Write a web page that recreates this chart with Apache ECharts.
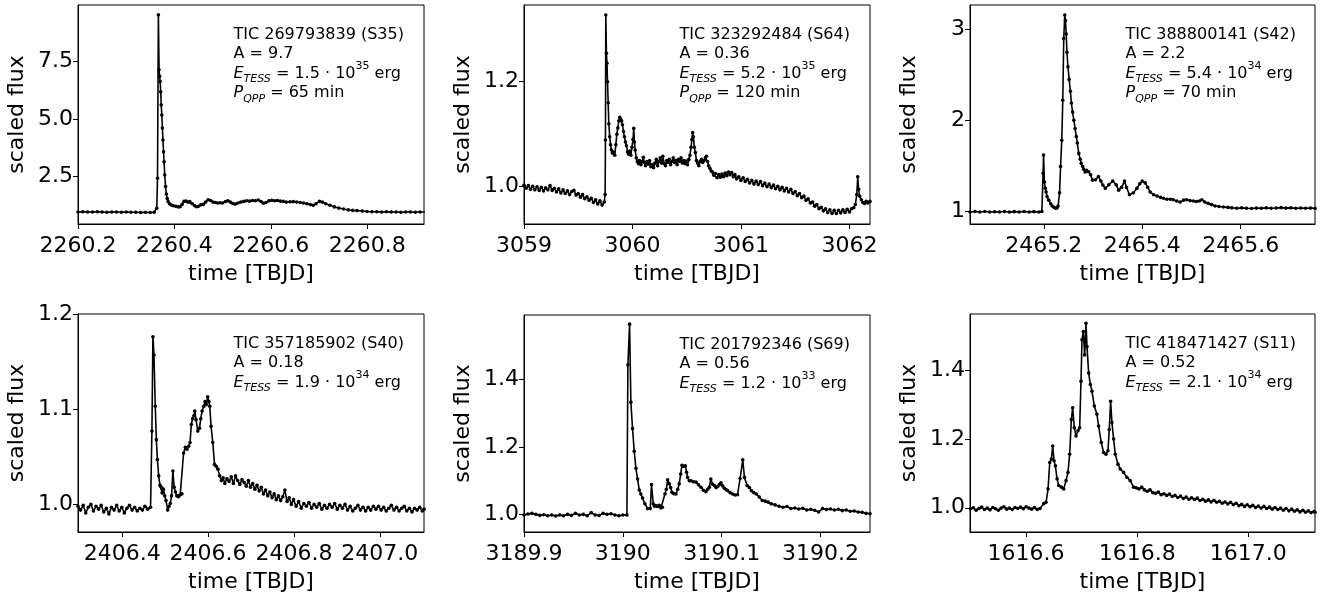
<!DOCTYPE html>
<html><head><meta charset="utf-8">
<script src="https://cdn.jsdelivr.net/npm/echarts@6/dist/echarts.min.js"></script>
<style>html,body{margin:0;padding:0;background:#fff}#c{width:1323px;height:594px}</style>
</head><body><div id="c"></div>
<script>
// ---------- light curves [time, scaled flux] ----------
const lc1 = [[2260.200,0.97],[2260.210,0.98],[2260.220,0.97],[2260.230,0.97],[2260.240,0.98],[2260.250,0.97],[2260.260,0.96],[2260.270,0.97],[2260.280,0.97],[2260.290,0.96],[2260.300,0.97],[2260.310,0.96],[2260.320,0.96],[2260.330,0.95],[2260.340,0.96],[2260.350,0.95],[2260.358,0.96],[2260.3635,1.13],[2260.3650,2.43],[2260.3668,9.51],[2260.3682,7.13],[2260.3694,6.85],[2260.3705,6.62],[2260.3716,6.18],[2260.3727,5.61],[2260.3739,5.17],[2260.3751,4.61],[2260.3763,4.09],[2260.3775,3.58],[2260.3786,3.15],[2260.3800,2.57],[2260.3817,2.07],[2260.3834,1.75],[2260.3852,1.55],[2260.3870,1.42],[2260.3900,1.32],[2260.394,1.27],[2260.398,1.24],[2260.403,1.22],[2260.408,1.19],[2260.412,1.20],[2260.416,1.30],[2260.420,1.43],[2260.424,1.44],[2260.428,1.40],[2260.432,1.42],[2260.437,1.33],[2260.442,1.24],[2260.446,1.20],[2260.450,1.22],[2260.455,1.28],[2260.460,1.30],[2260.465,1.40],[2260.470,1.50],[2260.475,1.47],[2260.480,1.40],[2260.485,1.38],[2260.490,1.36],[2260.495,1.37],[2260.500,1.36],[2260.506,1.42],[2260.511,1.46],[2260.516,1.40],[2260.521,1.34],[2260.526,1.31],[2260.532,1.36],[2260.538,1.40],[2260.544,1.43],[2260.550,1.46],[2260.556,1.44],[2260.562,1.47],[2260.568,1.46],[2260.574,1.49],[2260.580,1.42],[2260.585,1.35],[2260.590,1.38],[2260.596,1.45],[2260.602,1.48],[2260.608,1.46],[2260.614,1.47],[2260.620,1.44],[2260.626,1.43],[2260.632,1.40],[2260.640,1.41],[2260.647,1.42],[2260.654,1.40],[2260.661,1.38],[2260.668,1.36],[2260.675,1.33],[2260.682,1.29],[2260.688,1.26],[2260.694,1.33],[2260.701,1.43],[2260.707,1.40],[2260.714,1.33],[2260.723,1.26],[2260.732,1.19],[2260.741,1.14],[2260.751,1.10],[2260.761,1.06],[2260.770,1.04],[2260.779,1.03],[2260.790,1.01],[2260.800,0.99],[2260.810,0.98],[2260.820,0.98],[2260.830,0.97],[2260.840,0.98],[2260.850,0.97],[2260.860,0.97],[2260.870,0.96],[2260.880,0.97],[2260.890,0.97],[2260.900,0.96],[2260.910,0.97],[2260.920,0.97]];

const lc2 = [[3059.00,1.003],[3059.02,0.997],[3059.04,1.002],[3059.06,0.995],[3059.08,1.001],[3059.10,0.994],[3059.12,1.000],[3059.14,0.993],[3059.16,0.999],[3059.18,0.992],[3059.20,0.998],[3059.22,0.994],[3059.24,1.002],[3059.26,0.993],[3059.28,0.997],[3059.30,0.990],[3059.32,0.996],[3059.34,0.988],[3059.36,0.994],[3059.38,0.987],[3059.40,0.992],[3059.42,0.985],[3059.44,0.991],[3059.46,0.993],[3059.48,0.984],[3059.50,0.987],[3059.52,0.980],[3059.54,0.985],[3059.56,0.977],[3059.58,0.981],[3059.60,0.974],[3059.62,0.978],[3059.64,0.970],[3059.66,0.975],[3059.68,0.967],[3059.70,0.973],[3059.72,0.965],[3059.74,0.971],[3059.748,0.985],[3059.751,1.089],[3059.754,1.327],[3059.760,1.254],[3059.765,1.235],[3059.770,1.200],[3059.776,1.160],[3059.782,1.120],[3059.790,1.095],[3059.798,1.080],[3059.806,1.070],[3059.815,1.064],[3059.825,1.066],[3059.837,1.060],[3059.847,1.080],[3059.856,1.100],[3059.865,1.112],[3059.874,1.125],[3059.883,1.132],[3059.892,1.128],[3059.900,1.125],[3059.908,1.118],[3059.917,1.105],[3059.926,1.095],[3059.935,1.085],[3059.945,1.078],[3059.955,1.066],[3059.965,1.062],[3059.975,1.068],[3059.985,1.060],[3059.995,1.075],[3060.005,1.090],[3060.012,1.111],[3060.018,1.085],[3060.025,1.070],[3060.035,1.055],[3060.045,1.048],[3060.055,1.044],[3060.065,1.050],[3060.078,1.042],[3060.090,1.048],[3060.100,1.056],[3060.110,1.046],[3060.120,1.040],[3060.132,1.048],[3060.145,1.043],[3060.158,1.050],[3060.170,1.038],[3060.182,1.042],[3060.195,1.036],[3060.208,1.045],[3060.220,1.052],[3060.232,1.040],[3060.244,1.048],[3060.256,1.055],[3060.268,1.045],[3060.280,1.058],[3060.292,1.044],[3060.304,1.040],[3060.316,1.050],[3060.328,1.046],[3060.340,1.052],[3060.352,1.042],[3060.364,1.048],[3060.376,1.055],[3060.388,1.046],[3060.400,1.050],[3060.412,1.042],[3060.424,1.052],[3060.436,1.048],[3060.448,1.055],[3060.460,1.045],[3060.472,1.050],[3060.484,1.044],[3060.496,1.049],[3060.508,1.042],[3060.520,1.052],[3060.530,1.060],[3060.540,1.075],[3060.548,1.090],[3060.555,1.103],[3060.562,1.095],[3060.570,1.075],[3060.580,1.065],[3060.590,1.050],[3060.600,1.045],[3060.612,1.040],[3060.624,1.048],[3060.636,1.052],[3060.648,1.046],[3060.660,1.050],[3060.672,1.055],[3060.682,1.058],[3060.692,1.048],[3060.702,1.040],[3060.714,1.035],[3060.726,1.030],[3060.738,1.028],[3060.750,1.022],[3060.765,1.025],[3060.780,1.017],[3060.795,1.023],[3060.810,1.018],[3060.825,1.024],[3060.840,1.019],[3060.855,1.026],[3060.870,1.021],[3060.885,1.028],[3060.900,1.023],[3060.915,1.027],[3060.930,1.019],[3060.945,1.023],[3060.960,1.015],[3060.980,1.019],[3061.000,1.012],[3061.020,1.017],[3061.040,1.010],[3061.060,1.014],[3061.080,1.007],[3061.100,1.012],[3061.120,1.005],[3061.140,1.011],[3061.160,1.004],[3061.180,1.010],[3061.200,1.002],[3061.220,1.007],[3061.240,1.000],[3061.260,1.005],[3061.280,0.998],[3061.300,1.003],[3061.320,0.996],[3061.340,1.001],[3061.360,0.994],[3061.380,0.999],[3061.400,0.992],[3061.420,0.997],[3061.440,0.990],[3061.460,0.995],[3061.480,0.987],[3061.500,0.991],[3061.520,0.983],[3061.540,0.987],[3061.560,0.979],[3061.580,0.982],[3061.600,0.974],[3061.620,0.977],[3061.640,0.969],[3061.660,0.971],[3061.680,0.963],[3061.700,0.966],[3061.720,0.958],[3061.740,0.961],[3061.760,0.954],[3061.780,0.958],[3061.800,0.951],[3061.820,0.956],[3061.840,0.949],[3061.860,0.955],[3061.880,0.949],[3061.900,0.955],[3061.920,0.950],[3061.940,0.956],[3061.960,0.951],[3061.980,0.957],[3062.000,0.952],[3062.020,0.958],[3062.040,0.960],[3062.055,0.966],[3062.068,0.985],[3062.077,1.019],[3062.085,0.995],[3062.095,0.982],[3062.110,0.975],[3062.125,0.970],[3062.140,0.968],[3062.155,0.972],[3062.170,0.969],[3062.190,0.972]];

const lc3 = [[2465.050,0.990],[2465.060,0.995],[2465.070,0.990],[2465.080,0.995],[2465.090,0.990],[2465.100,0.992],[2465.110,0.990],[2465.120,0.995],[2465.130,0.990],[2465.140,0.993],[2465.150,0.990],[2465.160,0.995],[2465.170,0.990],[2465.180,0.993],[2465.190,0.990],[2465.196,0.995],[2465.1985,1.415],[2465.1995,1.617],[2465.2012,1.320],[2465.2030,1.250],[2465.2047,1.210],[2465.2065,1.160],[2465.210,1.120],[2465.214,1.080],[2465.217,1.055],[2465.221,1.040],[2465.224,1.030],[2465.227,1.035],[2465.229,1.055],[2465.232,1.200],[2465.234,1.490],[2465.2365,1.780],[2465.2385,2.220],[2465.2405,2.900],[2465.2425,3.160],[2465.2440,3.100],[2465.2455,2.950],[2465.247,2.750],[2465.249,2.590],[2465.2515,2.450],[2465.254,2.320],[2465.256,2.190],[2465.2585,2.090],[2465.261,2.000],[2465.2635,1.910],[2465.266,1.820],[2465.268,1.750],[2465.271,1.635],[2465.274,1.570],[2465.276,1.525],[2465.279,1.490],[2465.281,1.460],[2465.284,1.430],[2465.287,1.450],[2465.291,1.433],[2465.295,1.400],[2465.299,1.340],[2465.305,1.345],[2465.311,1.380],[2465.316,1.330],[2465.320,1.286],[2465.325,1.250],[2465.332,1.290],[2465.340,1.330],[2465.347,1.290],[2465.352,1.230],[2465.358,1.260],[2465.364,1.330],[2465.368,1.260],[2465.374,1.180],[2465.382,1.200],[2465.389,1.250],[2465.395,1.300],[2465.400,1.330],[2465.406,1.310],[2465.411,1.260],[2465.416,1.210],[2465.423,1.180],[2465.430,1.165],[2465.437,1.150],[2465.443,1.140],[2465.450,1.130],[2465.457,1.130],[2465.463,1.125],[2465.470,1.110],[2465.477,1.100],[2465.484,1.120],[2465.490,1.125],[2465.497,1.115],[2465.504,1.110],[2465.510,1.105],[2465.516,1.110],[2465.521,1.125],[2465.527,1.100],[2465.534,1.084],[2465.541,1.070],[2465.548,1.055],[2465.556,1.050],[2465.565,1.045],[2465.574,1.040],[2465.582,1.035],[2465.592,1.030],[2465.602,1.035],[2465.612,1.030],[2465.622,1.028],[2465.632,1.032],[2465.642,1.030],[2465.652,1.035],[2465.662,1.030],[2465.672,1.033],[2465.682,1.037],[2465.692,1.032],[2465.702,1.035],[2465.712,1.030],[2465.722,1.034],[2465.732,1.030],[2465.742,1.032],[2465.751,1.030]];

const lc4 = [[2406.297,0.998],[2406.303,0.994],[2406.309,0.999],[2406.315,0.991],[2406.321,0.997],[2406.327,1.000],[2406.333,0.993],[2406.339,0.998],[2406.345,0.995],[2406.351,0.999],[2406.357,0.992],[2406.363,0.996],[2406.369,0.990],[2406.375,0.997],[2406.381,0.994],[2406.387,0.999],[2406.393,0.993],[2406.399,0.997],[2406.405,0.991],[2406.411,0.996],[2406.417,0.999],[2406.423,0.994],[2406.429,0.997],[2406.435,0.993],[2406.441,0.996],[2406.447,0.994],[2406.453,0.998],[2406.459,0.995],[2406.466,0.997],[2406.4692,1.077],[2406.4715,1.176],[2406.4740,1.157],[2406.4770,1.103],[2406.4795,1.068],[2406.482,1.047],[2406.485,1.030],[2406.488,1.020],[2406.491,1.018],[2406.493,1.012],[2406.496,1.016],[2406.499,1.009],[2406.502,1.004],[2406.506,0.994],[2406.509,0.998],[2406.512,1.001],[2406.515,1.009],[2406.518,1.035],[2406.521,1.018],[2406.524,1.013],[2406.527,1.009],[2406.531,1.008],[2406.535,1.010],[2406.539,1.011],[2406.543,1.054],[2406.547,1.060],[2406.551,1.058],[2406.555,1.061],[2406.558,1.065],[2406.561,1.084],[2406.564,1.090],[2406.567,1.093],[2406.569,1.098],[2406.572,1.089],[2406.576,1.077],[2406.580,1.080],[2406.583,1.090],[2406.586,1.098],[2406.590,1.103],[2406.593,1.108],[2406.596,1.105],[2406.599,1.113],[2406.602,1.108],[2406.604,1.103],[2406.607,1.082],[2406.611,1.065],[2406.615,1.042],[2406.619,1.040],[2406.623,1.037],[2406.627,1.030],[2406.631,1.025],[2406.635,1.028],[2406.639,1.022],[2406.644,1.027],[2406.649,1.024],[2406.654,1.029],[2406.659,1.022],[2406.664,1.030],[2406.669,1.025],[2406.674,1.021],[2406.679,1.026],[2406.684,1.023],[2406.689,1.019],[2406.694,1.025],[2406.699,1.018],[2406.704,1.022],[2406.709,1.016],[2406.714,1.020],[2406.719,1.014],[2406.724,1.018],[2406.729,1.011],[2406.734,1.015],[2406.739,1.009],[2406.744,1.013],[2406.749,1.007],[2406.754,1.011],[2406.759,1.005],[2406.764,1.009],[2406.769,1.004],[2406.774,1.008],[2406.779,1.015],[2406.784,1.003],[2406.789,1.007],[2406.794,1.000],[2406.799,1.005],[2406.805,0.998],[2406.811,1.003],[2406.817,0.996],[2406.823,1.001],[2406.829,0.998],[2406.835,1.002],[2406.841,0.996],[2406.847,1.000],[2406.853,0.997],[2406.859,1.001],[2406.865,0.995],[2406.871,0.999],[2406.877,0.996],[2406.883,1.000],[2406.889,0.997],[2406.895,1.001],[2406.901,0.995],[2406.907,0.999],[2406.913,0.996],[2406.919,1.000],[2406.925,0.994],[2406.931,0.998],[2406.937,0.993],[2406.943,0.996],[2406.949,0.999],[2406.955,0.994],[2406.961,0.997],[2406.967,0.993],[2406.973,0.997],[2406.979,0.994],[2406.985,0.998],[2406.991,0.995],[2406.997,0.998],[2407.003,0.994],[2407.009,0.997],[2407.015,0.993],[2407.021,0.996],[2407.027,0.999],[2407.033,0.994],[2407.039,0.997],[2407.045,0.993],[2407.051,0.996],[2407.057,0.998],[2407.063,0.993],[2407.069,0.996],[2407.075,0.992],[2407.081,0.996],[2407.087,0.994],[2407.093,0.997],[2407.099,0.993],[2407.103,0.995]];

const lc5 = [[3189.900,0.999],[3189.904,1.002],[3189.908,1.004],[3189.912,1.001],[3189.916,0.998],[3189.920,1.000],[3189.924,0.997],[3189.928,0.999],[3189.932,0.996],[3189.936,0.999],[3189.940,0.997],[3189.944,1.001],[3189.948,0.998],[3189.952,1.004],[3189.956,0.999],[3189.960,1.001],[3189.964,0.997],[3189.968,1.006],[3189.972,0.999],[3189.976,0.998],[3189.980,1.004],[3189.984,1.001],[3189.988,1.003],[3189.992,0.999],[3189.996,0.997],[3190.000,0.999],[3190.0041,0.999],[3190.0051,1.442],[3190.0068,1.562],[3190.0081,1.332],[3190.0098,1.254],[3190.0115,1.187],[3190.0132,1.137],[3190.0149,1.105],[3190.0166,1.073],[3190.0182,1.061],[3190.0199,1.049],[3190.0223,1.032],[3190.0250,1.018],[3190.0277,1.018],[3190.0290,1.089],[3190.0307,1.032],[3190.0320,1.025],[3190.0334,1.027],[3190.0350,1.024],[3190.0368,1.028],[3190.0385,1.020],[3190.0400,1.022],[3190.0426,1.061],[3190.0440,1.075],[3190.0453,1.103],[3190.0470,1.091],[3190.0483,1.080],[3190.0497,1.066],[3190.0515,1.062],[3190.0537,1.061],[3190.0555,1.075],[3190.0570,1.091],[3190.0585,1.120],[3190.0598,1.146],[3190.0615,1.142],[3190.0632,1.144],[3190.0645,1.125],[3190.0655,1.110],[3190.0672,1.100],[3190.0689,1.100],[3190.0715,1.097],[3190.0740,1.096],[3190.0765,1.088],[3190.0790,1.081],[3190.0815,1.072],[3190.0840,1.068],[3190.0858,1.075],[3190.0875,1.081],[3190.0890,1.105],[3190.0908,1.090],[3190.0926,1.086],[3190.0943,1.080],[3190.0960,1.083],[3190.0977,1.090],[3190.0993,1.094],[3190.1010,1.085],[3190.1027,1.078],[3190.1043,1.074],[3190.1060,1.071],[3190.1085,1.065],[3190.1110,1.061],[3190.1135,1.058],[3190.1160,1.059],[3190.1186,1.107],[3190.1213,1.162],[3190.1230,1.110],[3190.1257,1.086],[3190.1280,1.080],[3190.1300,1.071],[3190.1325,1.065],[3190.135,1.061],[3190.138,1.052],[3190.141,1.042],[3190.144,1.040],[3190.147,1.037],[3190.150,1.032],[3190.154,1.029],[3190.158,1.025],[3190.162,1.022],[3190.166,1.024],[3190.170,1.018],[3190.174,1.020],[3190.178,1.017],[3190.182,1.019],[3190.186,1.014],[3190.190,1.016],[3190.194,1.013],[3190.198,1.008],[3190.202,1.018],[3190.206,1.015],[3190.210,1.017],[3190.214,1.014],[3190.218,1.016],[3190.222,1.012],[3190.226,1.014],[3190.230,1.010],[3190.234,1.011],[3190.238,1.008],[3190.242,1.007],[3190.246,1.004],[3190.250,1.003]];

const lc6 = [[1616.500,0.997],[1616.505,1.000],[1616.510,0.993],[1616.515,0.998],[1616.520,1.002],[1616.525,0.995],[1616.530,0.999],[1616.535,0.994],[1616.540,1.001],[1616.545,0.997],[1616.550,0.993],[1616.555,0.999],[1616.560,1.003],[1616.565,0.996],[1616.570,0.999],[1616.575,0.995],[1616.580,1.001],[1616.585,0.998],[1616.590,1.002],[1616.595,0.997],[1616.600,1.003],[1616.605,0.999],[1616.610,0.996],[1616.615,1.001],[1616.620,0.995],[1616.625,0.998],[1616.6317,1.012],[1616.6359,1.016],[1616.6395,1.055],[1616.6425,1.132],[1616.6455,1.142],[1616.6479,1.180],[1616.6503,1.137],[1616.6527,1.122],[1616.6557,1.084],[1616.6587,1.065],[1616.6635,1.060],[1616.6677,1.055],[1616.6719,1.079],[1616.6754,1.103],[1616.6784,1.156],[1616.6814,1.257],[1616.6838,1.291],[1616.6868,1.233],[1616.6898,1.209],[1616.6934,1.224],[1616.6964,1.233],[1616.6988,1.368],[1616.7006,1.489],[1616.7030,1.513],[1616.7054,1.445],[1616.7078,1.537],[1616.7096,1.469],[1616.7126,1.392],[1616.7156,1.359],[1616.7186,1.339],[1616.7228,1.296],[1616.7275,1.272],[1616.7305,1.238],[1616.7353,1.190],[1616.7395,1.161],[1616.7437,1.156],[1616.7473,1.166],[1616.7497,1.228],[1616.7521,1.310],[1616.7545,1.248],[1616.7575,1.200],[1616.7605,1.156],[1616.7653,1.127],[1616.7695,1.113],[1616.7754,1.103],[1616.7814,1.089],[1616.7874,1.079],[1616.7934,1.060],[1616.798,1.058],[1616.803,1.055],[1616.808,1.060],[1616.813,1.052],[1616.818,1.048],[1616.823,1.052],[1616.828,1.044],[1616.833,1.042],[1616.838,1.046],[1616.843,1.038],[1616.848,1.041],[1616.853,1.036],[1616.858,1.040],[1616.863,1.033],[1616.868,1.036],[1616.873,1.030],[1616.878,1.034],[1616.883,1.027],[1616.888,1.031],[1616.893,1.025],[1616.898,1.029],[1616.903,1.024],[1616.908,1.028],[1616.913,1.021],[1616.918,1.025],[1616.923,1.019],[1616.928,1.023],[1616.933,1.017],[1616.938,1.022],[1616.943,1.016],[1616.948,1.019],[1616.953,1.013],[1616.958,1.017],[1616.963,1.011],[1616.968,1.016],[1616.973,1.009],[1616.978,1.013],[1616.983,1.006],[1616.988,1.010],[1616.993,1.004],[1616.998,1.009],[1617.003,1.003],[1617.008,1.007],[1617.013,1.001],[1617.018,1.005],[1617.023,0.999],[1617.028,1.004],[1617.033,0.998],[1617.038,1.002],[1617.043,0.996],[1617.048,1.001],[1617.053,0.995],[1617.058,0.999],[1617.063,0.993],[1617.068,0.998],[1617.073,0.991],[1617.078,0.996],[1617.083,0.990],[1617.088,0.994],[1617.093,0.988],[1617.098,0.993],[1617.103,0.987],[1617.108,0.991],[1617.113,0.986],[1617.118,0.989],[1617.120,0.987]];

// ---------- ticks ----------
const xTicks = [[2260.2,2260.4,2260.6,2260.8],[3059,3060,3061,3062],[2465.2,2465.4,2465.6],[2406.4,2406.6,2406.8,2407.0],[3189.9,3190,3190.1,3190.2],[1616.6,1616.8,1617.0]];
const xTickLabels = [['2260.2','2260.4','2260.6','2260.8'],['3059','3060','3061','3062'],['2465.2','2465.4','2465.6'],['2406.4','2406.6','2406.8','2407.0'],['3189.9','3190','3190.1','3190.2'],['1616.6','1616.8','1617.0']];
const yTicks = [[2.5,5.0,7.5],[1.0,1.2],[1,2,3],[1.0,1.1,1.2],[1.0,1.2,1.4],[1.0,1.2,1.4]];
const yTickLabels = [['2.5','5.0','7.5'],['1.0','1.2'],['1','2','3'],['1.0','1.1','1.2'],['1.0','1.2','1.4'],['1.0','1.2','1.4']];
const xRanges = [[2260.2,2260.918],[3059,3062.19],[2465.05,2465.751],[2406.297,2407.103],[3189.9,3190.25],[1616.499,1617.12]];
const yRanges = [[0.45,9.94],[0.929,1.346],[0.857,3.27],[0.971,1.2],[0.949,1.589],[0.9295,1.564]];

// ---------- annotation texts ----------
const ticNames = ['TIC 269793839 (S35)','TIC 323292484 (S64)','TIC 388800141 (S42)','TIC 357185902 (S40)','TIC 201792346 (S69)','TIC 418471427 (S11)'];
const amplitudes = ['9.7','0.36','2.2','0.18','0.56','0.52'];
const energyMant = ['1.5','5.2','5.4','1.9','1.2','2.1'];
const energyExp = ['35','35','34','34','33','34'];
const periods = ['65','120','70',null,null,null];

const curves = [lc1,lc2,lc3,lc4,lc5,lc6];
const grids = [
  {left:78, top:5, width:346, height:219},
  {left:524, top:5, width:346, height:219},
  {left:970, top:5, width:345, height:219},
  {left:78, top:314, width:346, height:220},
  {left:524, top:315, width:346, height:219},
  {left:970, top:314, width:345, height:220}
];

const FONT = 'DejaVu Sans';
function labelFmt(ticks, labels){
  return function(v){
    let best = 0, bd = Infinity;
    for (let i=0;i<ticks.length;i++){ const d=Math.abs(ticks[i]-v); if(d<bd){bd=d;best=i;} }
    return labels[best];
  };
}
const xAxes=[], yAxes=[], series=[], graphics=[];
const rich = {
  n:{fontFamily:FONT,fontSize:16,lineHeight:20,color:'#000'},
  i:{fontFamily:FONT,fontSize:16,lineHeight:20,fontStyle:'italic',color:'#000'},
  sub:{fontFamily:FONT,fontSize:11,fontStyle:'italic',height:8,verticalAlign:'bottom',color:'#000'},
  sup:{fontFamily:FONT,fontSize:11,height:5,verticalAlign:'top',color:'#000'}
};
for (let k=0;k<6;k++){
  xAxes.push({
    type:'value', gridIndex:k, min:xRanges[k][0], max:xRanges[k][1],
    name:'time [TBJD]', nameLocation:'middle', nameGap:39,
    nameTextStyle:{fontFamily:FONT,fontSize:22,color:'#000'},
    axisLine:{show:true,onZero:false,lineStyle:{color:'#000',width:1}},
    axisTick:{show:true,inside:false,length:5,customValues:xTicks[k],lineStyle:{color:'#000',width:1}},
    axisLabel:{show:true,customValues:xTicks[k],formatter:labelFmt(xTicks[k],xTickLabels[k]),fontFamily:FONT,fontSize:22,color:'#000',margin:11},
    splitLine:{show:false}
  });
  yAxes.push({
    type:'value', gridIndex:k, min:yRanges[k][0], max:yRanges[k][1],
    name:'scaled flux', nameLocation:'middle', nameGap:50,
    nameTextStyle:{fontFamily:FONT,fontSize:22,color:'#000'},
    axisLine:{show:true,onZero:false,lineStyle:{color:'#000',width:1}},
    axisTick:{show:true,inside:false,length:5,customValues:yTicks[k],lineStyle:{color:'#000',width:1}},
    axisLabel:{show:true,customValues:yTicks[k],formatter:labelFmt(yTicks[k],yTickLabels[k]),fontFamily:FONT,fontSize:22,color:'#000',margin:5},
    splitLine:{show:false}
  });
  series.push({
    type:'line', xAxisIndex:k, yAxisIndex:k, data:curves[k],
    showSymbol:true, symbol:'circle', symbolSize:3.6, showAllSymbol:true,
    lineStyle:{color:'#000',width:1.6}, itemStyle:{color:'#000'},
    silent:true, animation:false, clip:true
  });
  const g = grids[k];
  const tx = g.left + 155.5, ty = g.top + 29.5, dy = 19.5;
  const lines = [
    '{n|'+ticNames[k]+'}',
    '{n|A = '+amplitudes[k]+'}',
    '{i|E}{sub|TESS}{n| = '+energyMant[k]+' · 10}{sup|'+energyExp[k]+'}{n| erg}'
  ];
  if (periods[k]) lines.push('{i|P}{sub|QPP}{n| = '+periods[k]+' min}');
  lines.forEach((t,j)=>{
    graphics.push({type:'text', x:tx, y:ty + j*dy, silent:true,
      style:{text:t, rich:rich, fill:'#000', font:'16px '+FONT, verticalAlign:'middle', align:'left'}});
  });
}
const chart = echarts.init(document.getElementById('c'), null, {renderer:'canvas'});
chart.setOption({
  animation:false,
  backgroundColor:'#fff',
  grid: grids.map(g=>Object.assign({show:true,borderColor:'#000',borderWidth:1,backgroundColor:'transparent',containLabel:false}, g)),
  xAxis:xAxes, yAxis:yAxes, series:series, graphic:graphics
});
</script></body></html>
